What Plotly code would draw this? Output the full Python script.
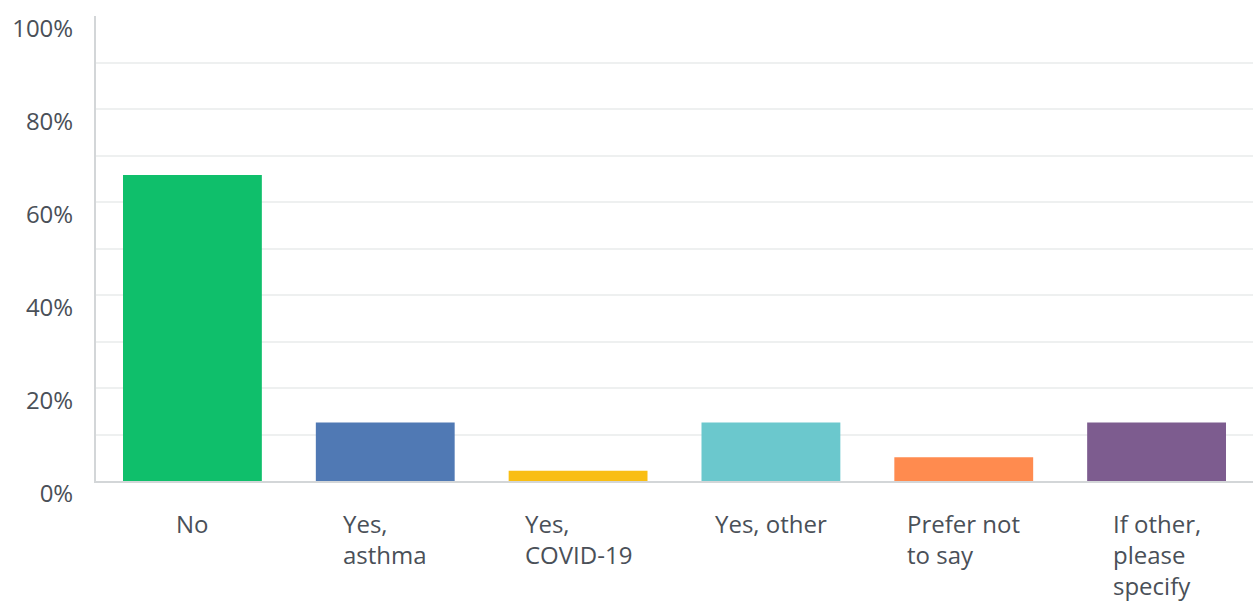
import plotly.graph_objects as go

categories = ["No", "Yes,<br>asthma", "Yes,<br>COVID-19", "Yes, other", "Prefer not<br>to say", "If other,<br>please<br>specify"]
values = [65.8, 12.6, 2.2, 12.6, 5.1, 12.6]
colors = ["#0FBF6B", "#5079B4", "#F9BE13", "#6BC8CD", "#FF8B4F", "#7D5C8F"]
y_tick_vals = [0, 10, 20, 30, 40, 50, 60, 70, 80, 90, 100]
y_tick_text = ["0%", "", "20%", "", "40%", "", "60%", "", "80%", "", "100%"]

FONT = "Open Sans, Lato, sans-serif"
TXT = "#4a5058"

x_idx = list(range(len(categories)))

fig = go.Figure()
fig.add_trace(go.Bar(
    x=x_idx, y=values, marker=dict(color=colors, line=dict(width=0)),
    width=0.72, hoverinfo="skip"
))

for i, c in enumerate(categories):
    fig.add_annotation(
        x=i, y=0, xref="x", yref="paper", yanchor="top", xanchor="center",
        yshift=-24, text=c, showarrow=False, align="left",
        font=dict(family=FONT, size=24, color=TXT)
    )

fig.update_layout(
    width=1253, height=603,
    margin=dict(l=96, r=0, t=16, b=122),
    plot_bgcolor="white", paper_bgcolor="white",
    showlegend=False,
    xaxis=dict(range=[-0.5, 5.5], showticklabels=False, showgrid=False,
               zeroline=False, showline=True, linecolor="#d3d6d8", linewidth=2, ticks=""),
    yaxis=dict(range=[0, 100], tickvals=y_tick_vals, ticktext=y_tick_text,
               showgrid=True, gridcolor="#eef0f0", gridwidth=2,
               zeroline=False, showline=True, linecolor="#d3d6d8", linewidth=2,
               ticks="", ticklabelstandoff=16, ticklabelshift=13,
               tickfont=dict(family=FONT, size=24, color=TXT)),
)

fig.write_html("out.html")
